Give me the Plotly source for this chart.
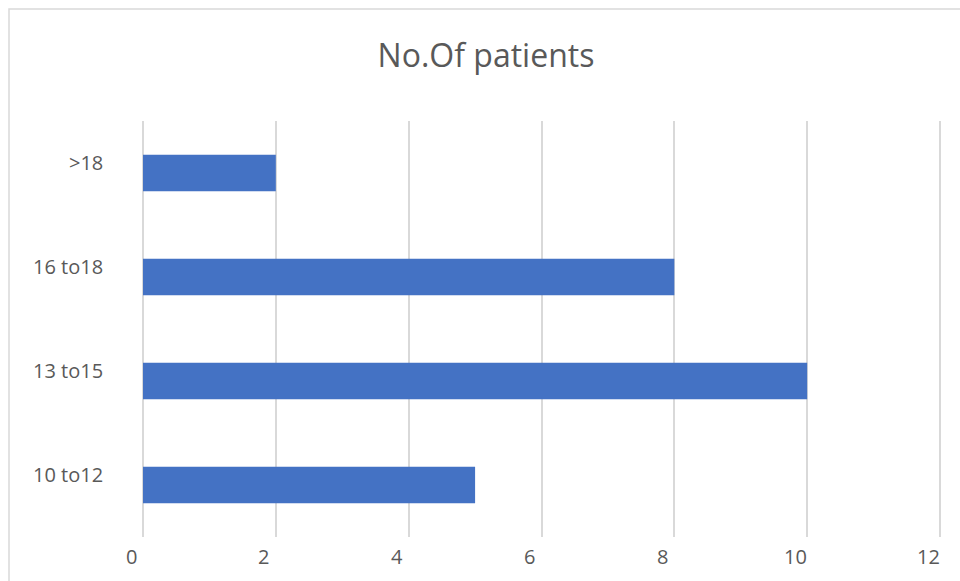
import plotly.graph_objects as go

# Age groups and patient counts
age_groups = ["10 to12", "13 to15", "16 to18", ">18"]
patients = [5, 10, 8, 2]
x_ticks = [0, 2, 4, 6, 8, 10, 12]

text_color = "#595959"
font_family = "Open Sans, Noto Sans, sans-serif"
grid_color = "#d9d9d9"

fig = go.Figure(
    go.Bar(
        x=patients,
        y=age_groups,
        orientation="h",
        marker=dict(color="#4472C4", line=dict(width=0)),
        hoverinfo="x+y",
    )
)

annotations = []
# category labels, sitting slightly above each bar's centre
for g in age_groups:
    annotations.append(dict(
        x=0, xref="x", y=g, yref="y", text=g, showarrow=False,
        xanchor="right", yanchor="middle", xshift=-38, yshift=11,
        font=dict(size=20, color=text_color, family=font_family),
    ))
# value axis labels
for t in x_ticks:
    annotations.append(dict(
        x=t, xref="x", y=0, yref="paper", text=str(t), showarrow=False,
        xanchor="center", yanchor="middle", xshift=-12, yshift=-19,
        font=dict(size=20, color=text_color, family=font_family),
    ))

fig.update_layout(
    width=960,
    height=581,
    margin=dict(l=143, r=18, t=121, b=44),
    paper_bgcolor="white",
    plot_bgcolor="white",
    showlegend=False,
    bargap=0.65,
    title=dict(
        text="No.Of patients",
        x=486 / 960,
        xanchor="center",
        y=1 - 56 / 581,
        yanchor="middle",
        font=dict(size=32, color=text_color, family=font_family),
    ),
    xaxis=dict(
        range=[0, 12.03],
        tickvals=x_ticks,
        showticklabels=False,
        showgrid=True,
        gridcolor=grid_color,
        gridwidth=1.5,
        zeroline=True,
        zerolinecolor=grid_color,
        zerolinewidth=1.5,
        showline=False,
        fixedrange=True,
    ),
    yaxis=dict(
        categoryorder="array",
        categoryarray=age_groups,
        range=[-0.5, 3.5],
        showticklabels=False,
        showgrid=False,
        zeroline=False,
        showline=False,
        fixedrange=True,
    ),
    annotations=annotations,
    shapes=[
        # outer chart border
        dict(type="rect", xref="paper", yref="paper",
             x0=(9 - 143) / 799, x1=(975 - 143) / 799,
             y0=(537 - 600) / 416, y1=(537 - 9) / 416,
             line=dict(color=grid_color, width=1.5), fillcolor="rgba(0,0,0,0)",
             layer="below"),
    ],
)

fig.write_html("out.html")
